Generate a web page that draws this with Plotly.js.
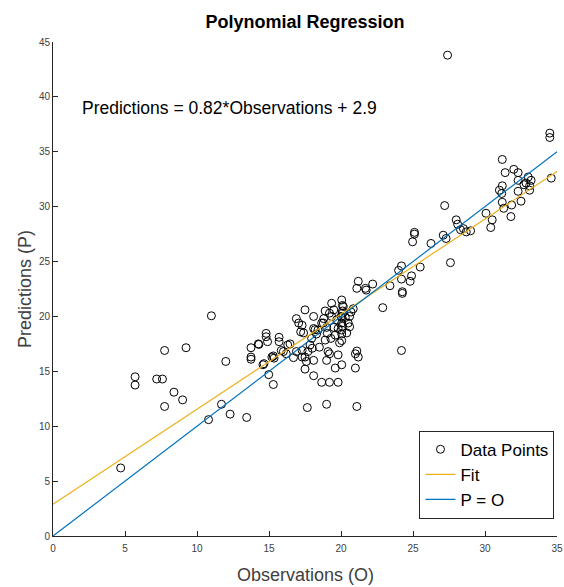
<!DOCTYPE html>
<html>
<head>
<meta charset="utf-8">
<script src="https://cdn.plot.ly/plotly-3.0.1.min.js"></script>
<style>html,body{margin:0;padding:0;background:#fff;}#chart{width:564px;height:587px;}</style>
</head>
<body>
<div id="chart"></div>
<script>
// Observations (O) of the data points
const obsX = [
  4.7, 5.7, 5.7, 7.2, 7.6, 7.75, 7.75, 8.4, 9.0, 9.24,
  11.0, 10.8, 11.7, 12.0, 12.3, 13.45,
  13.75, 13.75, 13.75, 14.3, 14.26, 14.58, 14.65, 14.98, 15.3,
  14.8, 14.8, 14.9, 15.2, 15.35, 15.3, 15.7, 15.7, 15.85,
  16.0, 16.3, 16.2, 16.46, 16.7,
  16.9, 16.9, 17.06, 17.5, 18.1, 17.3, 17.2, 17.4,
  17.3, 17.3, 17.5, 17.7, 18.0, 17.85,
  18.2, 17.96, 18.1, 18.4, 18.66, 18.8,
  18.1, 17.6, 17.5, 18.1, 18.66, 19.2, 19.8,
  17.66, 19.0, 21.1,
  21.0, 21.1, 21.2, 21.0,
  19.6, 20.05, 19.8, 19.1, 19.0, 19.2, 18.9, 19.05,
  19.35, 20.05, 20.16, 20.1, 20.05, 20.05, 19.7, 20.6, 20.7, 20.85, 18.77, 19.35, 19.2,
  19.5, 19.8, 19.6, 19.3, 20.3, 20.4, 19.9, 18.5, 18.3, 19.0, 20.0, 19.5, 18.9,
  20.1, 20.1, 20.05, 20.1, 20.05, 20.05, 20.6, 20.5,
  21.1, 21.7, 21.75, 22.2, 21.2,
  22.9, 23.4,
  24.2, 24.0, 24.2, 24.26, 24.26, 24.9, 24.8, 24.2,
  24.97, 25.1, 25.1, 25.5, 26.25,
  27.2, 27.1, 27.3, 27.6,
  28.0, 28.1, 28.3, 28.5, 28.7, 29.0,
  27.4,
  30.07, 30.5, 30.4, 31.8,
  31.2, 31.4, 32.0, 32.3, 32.3, 33.0, 32.85, 33.1, 32.7, 33.2,
  31.2, 31.0, 31.16, 31.2, 31.3, 31.85, 32.5, 32.3, 33.1,
  34.6, 34.5, 34.5
];
// Predictions (P) of the data points
const predY = [
  6.2, 14.5, 13.75, 14.3, 14.3, 16.9, 11.8, 13.1, 12.4, 17.15,
  20.06, 10.6, 12.0, 15.9, 11.1, 10.8,
  17.15, 16.3, 16.1, 17.45, 17.5, 15.6, 15.7, 14.7, 13.8,
  18.46, 18.15, 17.7, 16.3, 16.2, 16.4, 18.1, 17.7, 16.9,
  16.8, 17.4, 16.6, 17.5, 16.25,
  16.8, 19.8, 19.4, 20.6, 20.0, 19.2, 18.6, 18.5,
  16.9, 16.3, 16.3, 16.8, 17.1, 17.4,
  18.8, 18.0, 18.9, 18.76, 19.4, 19.8,
  16.0, 15.9, 15.2, 14.6, 14.0, 14.0, 14.0,
  11.7, 12.0, 11.8,
  15.3, 16.85, 16.3, 16.6,
  15.3, 15.6, 16.5, 16.8, 16.0, 16.6, 17.85, 18.46,
  21.2, 21.5, 20.9, 20.3, 19.4, 18.76, 19.7, 19.06, 20.4, 20.7, 19.4, 20.0, 20.3,
  19.0, 18.9, 18.3, 18.0, 19.9, 18.5, 17.6, 17.2, 18.4, 19.0, 20.0, 20.6, 20.5,
  21.0, 20.5, 19.9, 19.1, 18.4, 17.8, 20.0, 19.4,
  22.56, 22.56, 22.4, 22.95, 23.2,
  20.8, 22.8,
  24.6, 24.2, 23.4, 22.25, 22.1, 23.7, 23.2, 16.9,
  26.8, 27.5, 27.66, 24.5, 26.65,
  30.1, 27.4, 27.1, 24.9,
  28.8, 28.4, 27.9, 28.0, 27.7, 27.8,
  43.8,
  29.4, 28.8, 28.1, 29.1,
  34.3, 33.1, 33.4, 33.1, 32.4, 32.7, 32.15, 31.9, 32.0, 32.4,
  31.9, 31.5, 31.2, 30.4, 29.85, 30.15, 30.5, 31.4, 31.5,
  32.6, 36.7, 36.3
];
// Fit line end points
const fitX = [0, 35];
const fitY = [2.9, 33.2];
// P = O line
const idX = [0, 35];
const idY = [0, 35];

const eqText = 'Predictions = 0.82*Observations + 2.9';
const xTitle = 'Observations (O)';
const yTitle = 'Predictions (P)';
const xTicks = [0, 5, 10, 15, 20, 25, 30, 35];
const yTicks = [0, 5, 10, 15, 20, 25, 30, 35, 40, 45];

const FONT = 'Liberation Sans, Arial, Helvetica, sans-serif';
const AX = '#262626';

const traces = [
  {x: obsX, y: predY, mode: 'markers', type: 'scatter', name: 'Data Points',
   marker: {symbol: 'circle-open', size: 8, color: '#000000', line: {width: 1, color: '#000000'}}},
  {x: fitX, y: fitY, mode: 'lines', type: 'scatter', name: 'Fit',
   line: {color: '#EDB120', width: 1.2}},
  {x: idX, y: idY, mode: 'lines', type: 'scatter', name: 'P = O',
   line: {color: '#0072BD', width: 1.2}}
];

const layout = {
  width: 564, height: 587,
  margin: {l: 53, r: 7, t: 42, b: 51},
  paper_bgcolor: '#fff', plot_bgcolor: '#fff',
  showlegend: true,
  font: {family: FONT, color: AX},
  title: {text: '<b>Polynomial Regression</b>', font: {size: 18, color: '#000', family: FONT},
          xref: 'paper', x: 0.5, xanchor: 'center', yref: 'container', y: 1 - 22/587, yanchor: 'middle'},
  xaxis: {range: [0, 35], tickvals: xTicks, ticktext: xTicks.map(String), ticks: 'inside', ticklen: 5,
          tickcolor: AX, showline: true, linecolor: AX, linewidth: 1, mirror: false, showgrid: false,
          zeroline: false, tickfont: {size: 10, color: '#404040'}, ticklabelstandoff: 3},
  yaxis: {range: [0, 45], tickvals: yTicks, ticktext: yTicks.map(String), ticks: 'inside', ticklen: 5,
          tickcolor: AX, showline: true, linecolor: AX, linewidth: 1, mirror: false, showgrid: false,
          zeroline: false, tickfont: {size: 10, color: '#404040'}},
  legend: {x: 0.995, y: 0.035, xanchor: 'right', yanchor: 'bottom', bgcolor: '#fff',
           bordercolor: AX, borderwidth: 1, font: {size: 17, color: '#000'}, tracegroupgap: 0,
           itemwidth: 30},
  annotations: [
    {x: 1.85, y: 39, xref: 'x', yref: 'y', xanchor: 'left', yanchor: 'middle', text: eqText,
     showarrow: false, font: {size: 17.5, color: '#000', family: FONT}},
    {x: 0.5, y: (536 - 575) / 494, xref: 'paper', yref: 'paper', xanchor: 'center', yanchor: 'middle',
     text: xTitle, showarrow: false, font: {size: 18, color: '#404040', family: FONT}},
    {x: (25 - 53) / 504, y: 0.5, xref: 'paper', yref: 'paper', xanchor: 'center', yanchor: 'middle',
     text: yTitle, textangle: -90, showarrow: false, font: {size: 18, color: '#404040', family: FONT}}
  ]
};

Plotly.newPlot('chart', traces, layout, {displayModeBar: false, staticPlot: true});
</script>
</body>
</html>
